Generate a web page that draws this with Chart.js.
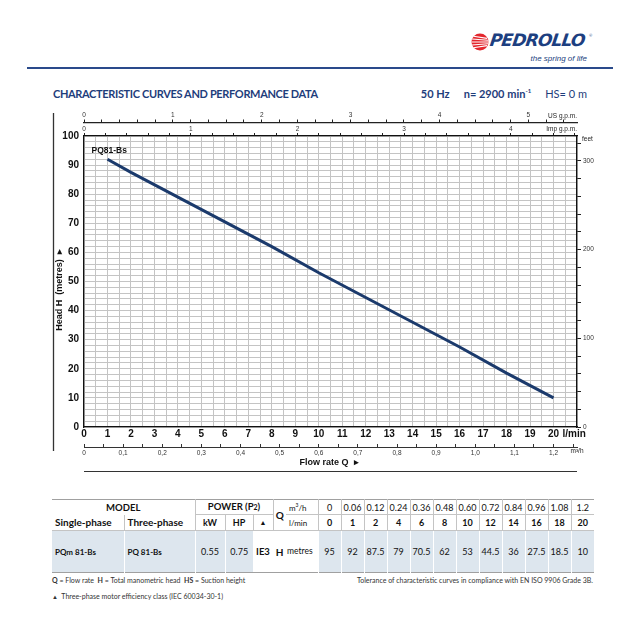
<!DOCTYPE html>
<html><head><meta charset="utf-8">
<script src="https://cdn.jsdelivr.net/npm/chart.js@4.4.0/dist/chart.umd.min.js"></script>
<style>
html,body{margin:0;padding:0;background:#fff;}
#page{position:relative;width:640px;height:640px;overflow:hidden;font-family:Lato,'Open Sans',sans-serif;color:#111;}
.abs{position:absolute;white-space:nowrap;}
#chartWrap{position:absolute;left:0;top:100px;width:640px;height:380px;}
#tbl{border-collapse:collapse;table-layout:fixed;position:absolute;left:52px;top:499px;border-top:1px solid #a0a0a0;border-bottom:1px solid #a0a0a0;}
#tbl td{padding:0;text-align:center;font-size:9px;color:#111;overflow:hidden;white-space:nowrap;line-height:1;}
#tbl .hl{border-left:1px solid #c4c4c4;}
#tbl .hb{border-bottom:1px solid #c4c4c4;}
#tbl .b{font-weight:bold;}
#tbl .lft{text-align:left;padding-left:3px;}
#tbl .blue{background:#dde6ee;border-left:1px solid #fff;}
#tbl .white{background:#fff;}
#tbl tr.r3 td{border-top:1px solid #c4c4c4;}
</style></head>
<body>
<div id="page">
  <!-- logo -->
  <svg class="abs" style="left:470px;top:32px" width="22" height="22" viewBox="0 0 22 22">
    <circle cx="10" cy="10" r="8.5" fill="#e3262d"/>
    <path d="M2 7 L18 8.2 M1.6 10 L18.5 10 M2 13 L18 11.8 M3.5 15.8 L17 13.6 M3.5 4.2 L17 6.4" stroke="#fff" stroke-width="1.1"/>
  </svg>
  <div class="abs" style="left:490px;top:30px;font-family:'DejaVu Sans',sans-serif;font-weight:bold;font-style:oblique;font-size:17px;color:#1d3f80;letter-spacing:-0.8px;transform:skewX(-8deg);">PEDROLLO</div>
  <div class="abs" style="left:589px;top:33px;font-size:4px;color:#1d3f80;">®</div>
  <div class="abs" style="right:53px;top:54px;font-family:'Liberation Sans',Arial,sans-serif;font-style:italic;font-size:8px;color:#1d3f80;">the spring of life</div>
  <div class="abs" style="left:27px;top:67px;width:586px;height:2px;background:#2a4a8b;"></div>
  <!-- title -->
  <div class="abs" style="left:53px;top:87px;font-weight:bold;font-size:11px;color:#1e3d7b;letter-spacing:-0.35px;">CHARACTERISTIC CURVES AND PERFORMANCE DATA</div>
  <div class="abs" style="right:53px;top:87px;font-size:11px;color:#1e3d7b;"><b>50 Hz</b>&nbsp;&nbsp;&nbsp;&nbsp;&nbsp;<b>n= 2900 min<sup style="font-size:6px;">-1</sup></b>&nbsp;&nbsp;&nbsp;&nbsp;&nbsp;HS= 0 m</div>

  <div id="chartWrap"><canvas id="c" width="640" height="380" style="width:640px;height:380px"></canvas></div>

  <table id="tbl"></table>

  <div class="abs" style="left:52px;top:576px;font-size:7px;color:#333;"><b>Q</b> = Flow rate&nbsp;&nbsp;<b>H</b> = Total manometric head&nbsp;&nbsp;<b>HS</b> = Suction height</div>
  <div class="abs" style="right:47px;top:576px;font-size:7px;color:#333;">Tolerance of characteristic curves in compliance with EN ISO 9906 Grade 3B.</div>
  <div class="abs" style="left:52px;top:592px;font-size:7px;color:#333;"><span style="font-size:6px">▲</span>&nbsp;&nbsp;Three-phase motor efficiency class (IEC 60034-30-1)</div>
</div>
<script>
// ---- data ----
const tableQm3h = ['0','0.06','0.12','0.24','0.36','0.48','0.60','0.72','0.84','0.96','1.08','1.2'];
const tableQlmin = [0, 1, 2, 4, 6, 8, 10, 12, 14, 16, 18, 20];
const tableHm = [95, 92, 87.5, 79, 70.5, 62, 53, 44.5, 36, 27.5, 18.5, 10];
const modelSingle = 'PQm 81-Bs';
const modelThree = 'PQ 81-Bs';
const powerKW = '0.55';
const powerHP = '0.75';
const effClass = 'IE3';
const curveName = 'PQ81-Bs';
// curve points (flow l/min, head m)
const curveQ = [1, 2, 4, 6, 8, 10, 12, 14, 16, 18, 20];
const curveH = [92, 87.5, 79, 70.5, 62, 53, 44.5, 36, 27.5, 18.5, 10];

// unit conversions for the auxiliary axes
const QMAX = 21;
const L_PER_USGAL = 3.78541;
const L_PER_IMPGAL = 4.54609;
const LMIN_PER_M3H = 1000 / 60;
const M_PER_FT = 0.3048;

// ---- table ----
(function buildTable(){
  const widths = [72,71,30,28,20,13,32].concat(new Array(12).fill(23));
  let h = '<colgroup>' + widths.map(w => '<col style="width:' + w + 'px">').join('') + '</colgroup>';
  h += '<tr style="height:15px">' +
    '<td colspan="2" class="b" style="font-size:9.5px">MODEL</td>' +
    '<td colspan="3" class="b hl hb" style="font-size:9.5px">POWER (P<span style="font-size:7px">2</span>)</td>' +
    '<td rowspan="2" class="b hl" style="font-size:10px">Q</td>' +
    '<td class="lft hb" style="font-size:8px">m<sup style="font-size:5px">3</sup>/h</td>' +
    tableQm3h.map(v => '<td class="hl hb">' + v + '</td>').join('') + '</tr>';
  h += '<tr style="height:16px">' +
    '<td class="b lft" style="font-size:10px">Single-phase</td>' +
    '<td class="b lft hl" style="font-size:10px">Three-phase</td>' +
    '<td class="b hl">kW</td><td class="b hl">HP</td><td class="hl" style="font-size:7px">▲</td>' +
    '<td class="lft" style="font-size:8px">l/min</td>' +
    tableQlmin.map(v => '<td class="b hl">' + v + '</td>').join('') + '</tr>';
  h += '<tr class="r3" style="height:42px">' +
    '<td class="b lft blue" style="font-size:8px;border-left:none">' + modelSingle + '</td>' +
    '<td class="b lft blue" style="font-size:8px">' + modelThree + '</td>' +
    '<td class="blue">' + powerKW + '</td><td class="blue">' + powerHP + '</td>' +
    '<td class="b white" style="font-size:9.5px">' + effClass + '</td>' +
    '<td class="b white" style="font-size:10px">H</td>' +
    '<td class="lft white" style="font-size:8.5px;padding-left:1px">metres</td>' +
    tableHm.map(v => '<td class="blue">' + v + '</td>').join('') + '</tr>';
  document.getElementById('tbl').innerHTML = h;
})();

// ---- chart ----
const isMult = (v, m) => Math.abs(v / m - Math.round(v / m)) < 1e-6;
const FONT = "'Liberation Sans Narrow','Liberation Sans',Arial,sans-serif";
const SMALL = "'Liberation Sans Narrow','Liberation Sans',Arial,sans-serif";

const extras = {
  id: 'extras',
  afterDraw(chart) {
    const {ctx, chartArea: a, scales: s} = chart;
    ctx.save();
    ctx.strokeStyle = '#333';
    ctx.lineWidth = 1.3;
    ctx.beginPath(); ctx.moveTo(53.5, 13); ctx.lineTo(53.5, 351); ctx.stroke();
    ctx.lineWidth = 1.2;
    ctx.beginPath(); ctx.moveTo(a.left, 371.5); ctx.lineTo(a.right, 371.5); ctx.stroke();

    ctx.fillStyle = '#222';
    ctx.textBaseline = 'middle';
    ctx.font = '6.5px ' + SMALL;
    ctx.textAlign = 'right';
    ctx.fillText('US g.p.m.', a.right, 16);
    ctx.fillText('Imp g.p.m.', a.right, 29);
    ctx.textAlign = 'left';
    ctx.fillText('feet', a.right + 5, 39);
    const x20 = s.x.getPixelForValue(20);
    ctx.fillText('m³/h', x20 + 17, 351.5);
    ctx.fillStyle = '#111';
    ctx.font = 'bold 10px ' + FONT;
    ctx.fillText('l/min', x20 + 9, 334);

    ctx.font = 'bold 9px ' + FONT;
    ctx.textAlign = 'center';
    ctx.fillText('Flow rate Q  ▸', 329, 363);
    ctx.save();
    ctx.translate(60, 190);
    ctx.rotate(-Math.PI / 2);
    ctx.fillText('Head H  (metres)  ▸', 0, 0);
    ctx.restore();

    const p = chart.getDatasetMeta(0).data[0];
    ctx.font = 'bold 8.5px ' + FONT;
    ctx.textAlign = 'left';
    ctx.fillText(curveName, p.x - 16, p.y - 9);
    ctx.restore();
  }
};

new Chart(document.getElementById('c'), {
  type: 'line',
  data: {
    datasets: [{
      label: curveName,
      data: curveQ.map((q, i) => ({x: q, y: curveH[i]})),
      borderColor: '#1b3a6c',
      borderWidth: 3,
      pointRadius: 0,
      tension: 0,
      xAxisID: 'x',
      yAxisID: 'y'
    }]
  },
  plugins: [extras],
  options: {
    responsive: false,
    animation: false,
    events: [],
    layout: {padding: {left: 0, right: 0, top: 8, bottom: 19}},
    plugins: {legend: {display: false}, tooltip: {enabled: false}},
    scales: {
      x: {
        type: 'linear', position: 'bottom', min: 0, max: QMAX,
        ticks: {stepSize: 0.5, includeBounds: false, autoSkip: false, maxRotation: 0, padding: 1,
          color: '#111', font: {family: FONT, size: 10, weight: 'bold'},
          callback: v => (isMult(v, 1) && v <= 20) ? String(Math.round(v)) : ''},
        grid: {color: '#c4c4c4', lineWidth: 1, drawTicks: false},
        border: {color: '#111', width: 1.3},
        afterFit: sc => { sc.height = 20; }
      },
      xM3: {
        type: 'linear', position: 'bottom', min: 0, max: QMAX / LMIN_PER_M3H,
        ticks: {stepSize: 0.05, includeBounds: false, autoSkip: false, maxRotation: 0, padding: 5,
          color: '#333', font: {family: SMALL, size: 6.5},
          callback: v => isMult(v, 0.1) ? (Math.abs(v) < 1e-9 ? '0' : v.toFixed(1).replace('.', ',')) : ''},
        grid: {drawOnChartArea: false, tickLength: -3, color: '#333', lineWidth: 1},
        border: {color: '#333', width: 1},
        afterFit: sc => { sc.height = 14; }
      },
      xImp: {
        type: 'linear', position: 'top', min: 0, max: QMAX / L_PER_IMPGAL,
        ticks: {stepSize: 0.2, includeBounds: false, autoSkip: false, maxRotation: 0, padding: 0,
          color: '#333', font: {family: SMALL, size: 6.5},
          callback: v => isMult(v, 1) ? String(Math.round(v)) : ''},
        grid: {drawOnChartArea: false, tickLength: 3, color: '#222', lineWidth: 1},
        border: {color: '#111', width: 1.3},
        afterFit: sc => { sc.height = 13.5; }
      },
      xUS: {
        type: 'linear', position: 'top', min: 0, max: QMAX / L_PER_USGAL,
        ticks: {stepSize: 0.2, includeBounds: false, autoSkip: false, maxRotation: 0, padding: 0,
          color: '#333', font: {family: SMALL, size: 6.5},
          callback: v => isMult(v, 1) ? String(Math.round(v)) : ''},
        grid: {drawOnChartArea: false, tickLength: 3, color: '#222', lineWidth: 1},
        border: {color: '#222', width: 1.2},
        afterFit: sc => { sc.height = 14.5; }
      },
      y: {
        type: 'linear', position: 'left', min: 0, max: 100,
        ticks: {stepSize: 2, autoSkip: false, padding: 5, color: '#111',
          font: {family: FONT, size: 10, weight: 'bold'},
          callback: v => isMult(v, 10) ? String(Math.round(v)) : ''},
        grid: {color: '#c4c4c4', lineWidth: 1, drawTicks: false},
        border: {color: '#111', width: 1.3},
        afterFit: sc => { sc.width = 84; }
      },
      yFt: {
        type: 'linear', position: 'right', min: 0, max: 100 / M_PER_FT,
        ticks: {stepSize: 20, includeBounds: false, autoSkip: false, padding: 2, color: '#333',
          font: {family: SMALL, size: 6.5},
          callback: v => isMult(v, 100) ? String(Math.round(v)) : ''},
        grid: {drawOnChartArea: false, tickLength: 4, color: '#222', lineWidth: 1},
        border: {color: '#111', width: 1.3},
        afterFit: sc => { sc.width = 63; }
      }
    }
  }
});
</script>
</body></html>
